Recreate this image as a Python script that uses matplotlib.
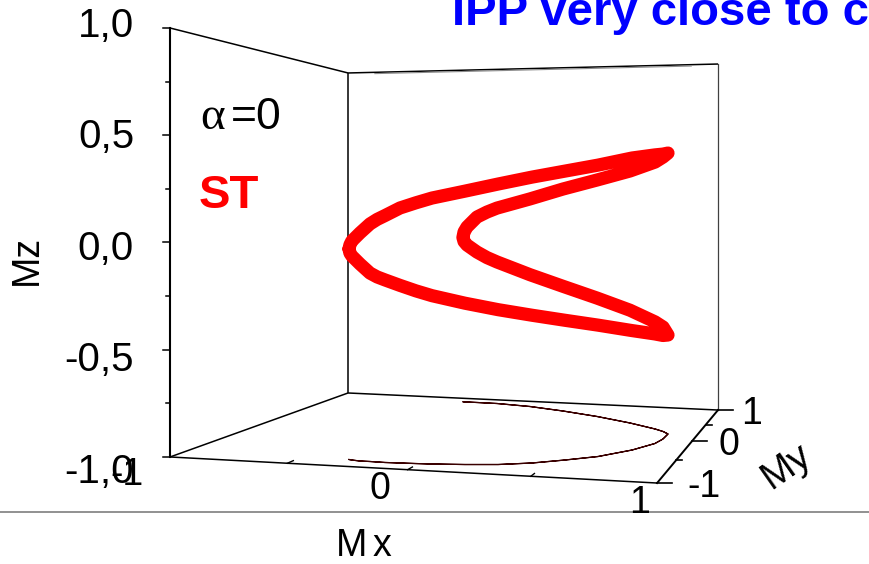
import numpy as np
import matplotlib.pyplot as plt

plt.rcParams['font.family'] = ['Liberation Sans', 'DejaVu Sans']

# magnetisation orbit (Mx, My, Mz):
# outer upper arc -> top tip -> inner upper arc -> inner lower arc -> bottom tip -> outer lower arc
mx = [-0.297, -0.292, -0.282, -0.243, -0.201, -0.170, -0.136, -0.075, -0.010, 0.055, 0.185, 0.313, 0.437,
      0.552, 0.668, 0.779, 0.848, 0.864,
      0.865,
      0.832, 0.784, 0.638, 0.444, 0.243, 0.047, -0.142, -0.196, -0.250, -0.304, -0.320, -0.326,
      -0.320, -0.304, -0.250, -0.196, -0.142, 0.047, 0.243, 0.444, 0.638, 0.784, 0.832,
      0.865,
      0.864, 0.848, 0.779, 0.668, 0.552, 0.437, 0.313, 0.185, 0.055, -0.010, -0.075, -0.136, -0.170,
      -0.201, -0.243, -0.282, -0.292]
my = [-0.854, -0.857, -0.862, -0.874, -0.873, -0.875, -0.877, -0.871, -0.865, -0.857, -0.831, -0.794, -0.723,
      -0.619, -0.500, -0.303, -0.109, 0.021,
      0.167,
      0.231, 0.293, 0.437, 0.592, 0.719, 0.819, 0.870, 0.871, 0.873, 0.874, 0.874, 0.874,
      0.874, 0.874, 0.873, 0.871, 0.870, 0.819, 0.719, 0.592, 0.437, 0.293, 0.231,
      0.167,
      0.021, -0.109, -0.303, -0.500, -0.619, -0.723, -0.794, -0.831, -0.857, -0.865, -0.871, -0.877, -0.875,
      -0.873, -0.874, -0.862, -0.857]
mz = [-0.025, -0.006, 0.012, 0.050, 0.092, 0.113, 0.131, 0.166, 0.190, 0.212, 0.244, 0.277, 0.310,
      0.340, 0.371, 0.411, 0.433, 0.442,
      0.453,
      0.435, 0.411, 0.368, 0.322, 0.273, 0.216, 0.161, 0.137, 0.107, 0.047, 0.017, -0.016,
      -0.040, -0.061, -0.102, -0.134, -0.159, -0.228, -0.285, -0.338, -0.388, -0.434, -0.454,
      -0.488,
      -0.476, -0.456, -0.423, -0.382, -0.352, -0.323, -0.295, -0.266, -0.233, -0.212, -0.188, -0.164, -0.151,
      -0.134, -0.093, -0.057, -0.044]

z_ticks = [1.0, 0.5, 0.0, -0.5, -1.0]
z_labels = ['1,0', '0,5', '0,0', '-0,5', '-1,0']
z_minor = [0.75, 0.25, -0.25, -0.75]
x_ticks = [-1, 0, 1]
x_labels = ['-1', '0', '1']
x_marks = [-0.5, 0, 0.5]
y_ticks = [-1, 0, 1]
y_labels = ['-1', '0', '1']
y_minor = [-0.5, 0.5]


def proj(x, y, z):
    # perspective view of the box, screen pixels
    x = np.asarray(x, float)
    y = np.asarray(y, float)
    z = np.asarray(z, float)
    w = 1 - 0.021 * x + 0.1424 * y
    sx = (477.3 + 200.15 * x + 127.75 * y) / w
    sy = (430.65 + 1.3 * x + 27.85 * y) / w
    k = 382.45 + 7.85 * x - 2.3 * y
    sy = sy - (z + 1) / 2 * k / w
    return sx, sy


def edge(ax, p, q, **kw):
    a = proj(*p)
    b = proj(*q)
    ax.plot([a[0], b[0]], [a[1], b[1]], **kw)


fig = plt.figure(figsize=(8.69, 5.64), dpi=100)
ax = fig.add_axes([0, 0, 1, 1])
ax.set_xlim(0, 869)
ax.set_ylim(564, 0)
ax.axis('off')

box = dict(color='black', lw=1.1, solid_capstyle='butt')
edge(ax, (-1, -1, -1), (-1, -1, 1), color='black', lw=1.5)
edge(ax, (-1, 1, -1), (-1, 1, 1), **box)
edge(ax, (1, 1, -1), (1, 1, 1), color='0.25', lw=0.9)
edge(ax, (-1, -1, 1), (-1, 1, 1), **box)
edge(ax, (-1, 1, 1), (1, 1, 1), **box)
edge(ax, (-0.85, 1, 0.992), (0.86, 1, 0.992), color='0.55', lw=0.8)
edge(ax, (-1, -1, -1), (-1, 1, -1), **box)
edge(ax, (-1, 1, -1), (1, 1, -1), **box)
edge(ax, (-1, -1, -1), (1, -1, -1), **box)
edge(ax, (1, -1, -1), (1, 1, -1), color='black', lw=1.4)

# Mz ticks
for z in z_ticks:
    sx, sy = proj(-1, -1, z)
    ax.plot([sx - 7, sx], [sy, sy], color='black', lw=1.1)
for z in z_minor:
    sx, sy = proj(-1, -1, z)
    ax.plot([sx - 4, sx], [sy, sy], color='black', lw=1.1)
for z, lab in zip(z_ticks, z_labels):
    sx, sy = proj(-1, -1, z)
    ax.text(sx - 36, sy + 9 + 8.5 * (1 - z), lab, fontsize=29, ha='right', va='baseline')

# Mx ticks
for v in x_marks:
    edge(ax, (v, -1, -1), (v, -0.94, -1), color='black', lw=1.0)
for v, lab in zip(x_ticks, x_labels):
    sx, sy = proj(v, -1.25, -1)
    ax.text(sx + 4, sy + 17, lab, fontsize=27, ha='right', va='baseline', zorder=5)

# My ticks
for v in y_ticks:
    sx, sy = proj(1, v, -1)
    ax.plot([sx, sx + 15], [sy, sy], color='black', lw=1.2)
for v in y_minor:
    sx, sy = proj(1, v, -1)
    ax.plot([sx, sx + 6], [sy, sy], color='black', lw=1.2)
for v, lab in zip(y_ticks, y_labels):
    sx, sy = proj(1.12, v, -1)
    ax.text(sx, sy + 12.5, lab, fontsize=27, ha='left', va='baseline')

# orbit and its shadow on the floor
ox = mx + mx[:1]
oy = my + my[:1]
oz = mz + mz[:1]
fx, fy = proj(ox, oy, [-1] * len(ox))
ax.plot(fx, fy, color='#3a0000', lw=0.9, zorder=3)
cx, cy = proj(ox, oy, oz)
ax.plot(cx, cy, color='#ff0000', lw=9.5, solid_joinstyle='round', solid_capstyle='round', zorder=4)

# axis titles
ax.text(27, 260, 'Mz', fontsize=27, rotation=90, ha='center', va='center')
ax.text(367.5, 556, 'M', fontsize=27, ha='right', va='baseline')
ax.text(372.5, 556, 'x', fontsize=27, ha='left', va='baseline')
ax.text(787, 466, 'My', fontsize=28, rotation=35, ha='center', va='center')

# annotations
ax.text(200, 129, 'α', fontsize=34, family=['Liberation Serif', 'DejaVu Serif'], ha='left', va='baseline')
ax.text(231, 129, '=0', fontsize=32, ha='left', va='baseline')
ax.text(199, 208, 'ST', fontsize=34, fontweight='bold', color='#ff0000', ha='left', va='baseline')
ax.text(452, 25, 'IPP very close to c', fontsize=34, fontweight='bold', color='#0000ff',
        ha='left', va='baseline')

ax.axhline(512, color='0.45', lw=1.1, zorder=1)

fig.savefig('out.png', dpi=100)
